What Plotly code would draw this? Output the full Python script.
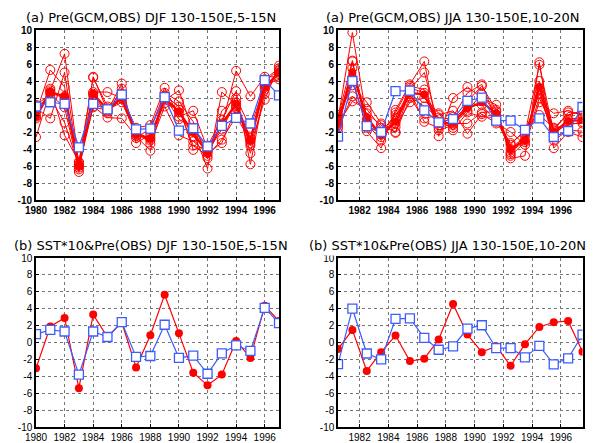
import plotly.graph_objects as go

# ---------------- data ----------------
djf_years = [1980, 1981, 1982, 1983, 1984, 1985, 1986, 1987, 1988,
             1989, 1990, 1991, 1992, 1993, 1994, 1995, 1996, 1997]
jja_years = [1980.5, 1981.5, 1982.5, 1983.5, 1984.5, 1985.5, 1986.5, 1987.5, 1988.5,
             1989.5, 1990.5, 1991.5, 1992.5, 1993.5, 1994.5, 1995.5, 1996.5, 1997.5]

# DJF GCM ensemble members (precip anomaly)
djf_m1 = [0.2, 5.3, 3.3, -6.7, 2.7, 2.7, 2.0, -1.5, -1.2, 3.2, -0.2, 0.5, -4.0, -1.2, 5.2, 2.2, 4.5, 4.5]
djf_m2 = [-2.6, 2.9, 7.2, -5.8, 4.5, 0.5, 3.7, -3.3, -2.3, 1.7, 2.9, -2.0, -6.3, 2.7, 1.2, -3.6, 1.8, 5.8]
djf_m3 = [0.8, -0.4, 5.0, -6.2, 1.0, -0.3, -0.4, -2.5, -4.2, 2.3, 1.0, -4.1, -3.6, -0.6, 2.8, -5.8, 3.0, 5.0]
djf_m4 = [-0.2, 3.1, -2.4, -5.5, 4.4, 1.0, 2.5, -1.8, -3.4, 1.0, -2.4, -3.1, -4.5, -3.3, 0.8, -2.7, 4.2, 5.5]
djf_m5 = [1.2, 2.4, 0.9, -6.4, 2.3, 0.2, 3.1, -2.7, -1.6, 2.6, 1.6, -0.8, -5.1, 0.5, 2.0, -1.5, 3.5, 4.2]
djf_m6 = [-0.4, 2.7, 2.2, -5.6, 0.9, 0.6, 1.5, -2.2, -3.0, 2.0, 0.3, -2.5, -4.3, -1.7, 1.5, -4.5, 2.5, 5.2]
djf_m7 = [1.0, 2.0, -0.9, -6.0, 2.5, 0.8, 2.2, -2.4, -2.6, 1.4, 0.6, -3.6, -4.8, -2.9, -0.2, -3.0, 3.3, 4.8]
djf_m8 = [0.5, 2.6, 2.0, -5.9, 1.8, 0.4, 1.9, -2.0, -2.8, 2.2, -0.5, -1.5, -4.2, -1.0, 1.0, -3.3, 4.0, 5.3]
djf_members = [djf_m1, djf_m2, djf_m3, djf_m4, djf_m5, djf_m6, djf_m7, djf_m8]
djf_mean = [-0.2, 2.7, 2.2, -6.0, 2.5, 0.6, 2.0, -2.3, -2.8, 2.0, 0.4, -2.0, -4.5, -1.0, 1.3, -3.0, 3.3, 5.0]

# JJA GCM ensemble members
jja_m1 = [-0.5, 9.7, -0.5, -2.6, 0.3, 3.4, 3.0, -0.8, -1.5, 1.6, 3.4, 0.6, -4.6, -2.2, 5.9, -2.2, -1.0, -1.0]
jja_m2 = [0.0, 3.5, 1.5, -1.0, -2.1, 2.0, -0.4, 0.0, 0.5, -2.2, 0.1, -1.0, -2.0, -3.5, 1.5, 0.2, 0.5, 0.0]
jja_m3 = [-2.0, 6.3, -1.9, -3.9, 0.6, 3.6, 6.3, -2.5, 2.0, 3.3, 2.0, 1.2, -5.1, -4.8, 6.2, -3.9, -2.0, -2.6]
jja_m4 = [-1.0, 1.6, 0.7, -1.5, -1.4, 1.5, 2.0, 0.2, -1.8, 0.3, -0.2, -0.3, -3.5, -1.8, 0.0, -1.5, 0.0, 0.5]
jja_m5 = [-0.3, 6.4, -1.0, -3.0, -0.3, 3.0, 5.0, -1.2, -0.2, 2.6, 3.6, -0.5, -4.0, -2.5, 3.0, -3.0, -1.8, -1.9]
jja_m6 = [-1.5, 2.2, 0.2, -1.2, -2.0, 2.8, -0.8, -1.5, -1.0, -1.0, 0.3, 0.4, -4.8, -3.2, 2.0, -1.8, 0.3, 0.1]
jja_m7 = [-1.2, 4.3, -1.5, -2.0, 0.0, 2.2, 1.0, -0.3, -0.5, 1.0, 1.2, -0.8, -3.3, -2.0, 2.5, -2.5, -0.5, -0.3]
jja_m8 = [-0.8, 5.5, -0.8, -2.2, -1.0, 3.2, 2.6, -1.8, -1.2, 0.5, 2.5, 0.0, -4.4, -3.0, 4.0, -1.6, -1.2, -0.8]
jja_members = [jja_m1, jja_m2, jja_m3, jja_m4, jja_m5, jja_m6, jja_m7, jja_m8]
jja_mean = [-0.9, 5.0, -0.3, -2.4, -0.8, 2.6, 2.4, -1.0, -0.9, 0.8, 1.5, 0.2, -4.0, -3.0, 3.3, -2.0, -0.7, -0.6]

# Observed precipitation anomaly
djf_obs = [1.0, 1.5, 1.3, -3.8, 1.3, 0.65, 2.4, -1.7, -1.6, 2.1, -1.83, -1.56, -3.7, -1.28, -0.33, -1.0, 4.1, 2.3]
jja_obs = [-2.55, 4.0, -1.3, -2.0, 2.8, 2.86, 0.55, -0.86, -0.47, 1.65, 2.04, -0.67, -0.67, -1.76, -0.39, -2.59, -1.88, 0.94]

# SST*10
djf_sst = [-3.06, 1.9, 2.9, -5.4, 3.3, 0.65, 2.4, -2.95, 0.85, 5.66, 1.08, -3.57, -5.07, -3.8, 0.18, -1.83, 4.36, 2.54]
jja_sst = [-0.78, 1.49, -3.37, -1.14, 0.82, -2.2, -1.92, 0.35, 4.55, 0.94, -1.14, -0.43, -2.75, -0.2, 1.84, 2.39, 2.55, -1.1]

titles = ["(a) Pre(GCM,OBS) DJF 130-150E,5-15N",
          "(a) Pre(GCM,OBS) JJA 130-150E,10-20N",
          "(b) SST*10&Pre(OBS) DJF 130-150E,5-15N",
          "(b) SST*10&Pre(OBS) JJA 130-150E,10-20N"]
djf_ticks = [1980, 1982, 1984, 1986, 1988, 1990, 1992, 1994, 1996]
jja_ticks = [1982, 1984, 1986, 1988, 1990, 1992, 1994, 1996]
y_ticks = [-10, -8, -6, -4, -2, 0, 2, 4, 6, 8, 10]

# ---------------- styles ----------------
W, H = 610, 443
RED = "#ff0000"
BLUE = "#3c5cff"

def px_x(a, b):
    return [a / W, b / W]

def px_y(top, bottom):
    return [1 - bottom / H, 1 - top / H]

fig = go.Figure()

panels = [
    ("x", "y", djf_years, djf_members, djf_mean, djf_obs, None),
    ("x2", "y2", jja_years, jja_members, jja_mean, jja_obs, None),
    ("x3", "y3", djf_years, None, None, djf_obs, djf_sst),
    ("x4", "y4", jja_years, None, None, jja_obs, jja_sst),
]

for xa, ya, xs, members, mean, obs, sst in panels:
    if members is not None:
        for m in members:
            fig.add_trace(go.Scatter(
                x=xs, y=m, xaxis=xa, yaxis=ya, mode="lines+markers",
                line=dict(color=RED, width=1),
                marker=dict(symbol="circle-open", size=9, color=RED, line=dict(width=1)),
                showlegend=False))
        fig.add_trace(go.Scatter(
            x=xs, y=mean, xaxis=xa, yaxis=ya, mode="lines+markers",
            line=dict(color=RED, width=2.2),
            marker=dict(symbol="circle", size=8, color=RED),
            showlegend=False))
    if sst is not None:
        fig.add_trace(go.Scatter(
            x=xs, y=sst, xaxis=xa, yaxis=ya, mode="lines+markers",
            line=dict(color=RED, width=1.2),
            marker=dict(symbol="circle", size=8, color=RED),
            showlegend=False))
    fig.add_trace(go.Scatter(
        x=xs, y=obs, xaxis=xa, yaxis=ya, mode="lines+markers",
        line=dict(color=BLUE, width=1.2),
        marker=dict(symbol="square", size=9, color="white",
                    line=dict(color=BLUE, width=1.3)),
        showlegend=False))

grid = dict(showgrid=True, gridcolor="#777777", griddash="dot", gridwidth=1,
            showline=True, linecolor="black", mirror=True, zeroline=False,
            ticks="inside", ticklen=3, tickcolor="black", automargin=False)

top_font = dict(family="Liberation Sans", size=10, color="black", weight="bold")
bot_font = dict(family="Liberation Sans", size=10, color="black")

lx = px_x(36, 279)
rx = px_x(338, 582.5)
ty = px_y(30, 200)
by = px_y(258, 427)

layout = dict(
    width=W, height=H, autosize=False,
    margin=dict(l=0, r=0, t=0, b=0, pad=0),
    paper_bgcolor="white", plot_bgcolor="white",
    showlegend=False,
)

axes_def = [
    ("xaxis", "yaxis", "x", "y", lx, ty, [1980, 1997], djf_ticks, top_font, 2),
    ("xaxis2", "yaxis2", "x2", "y2", rx, ty, [1980.5, 1997.5], jja_ticks, top_font, 2),
    ("xaxis3", "yaxis3", "x3", "y3", lx, by, [1980, 1997], djf_ticks, bot_font, 1.5),
    ("xaxis4", "yaxis4", "x4", "y4", rx, by, [1980.5, 1997.5], jja_ticks, bot_font, 1.5),
]
for xk, yk, xid, yid, dx, dy, xr, xt, f, lw in axes_def:
    layout[xk] = dict(domain=dx, range=xr, anchor=yid, tickmode="array",
                      tickvals=xt, ticktext=[str(t) for t in xt],
                      tickfont=f, linewidth=lw, **grid)
    layout[yk] = dict(domain=dy, range=[-10, 10], anchor=xid, tickmode="array",
                      tickvals=y_ticks, ticktext=[str(t) for t in y_ticks],
                      tickfont=f, linewidth=lw, **grid)

fig.update_layout(**layout)

title_font = dict(family="DejaVu Sans", size=13, color="black")
title_pos = [(24, 18, None), (324, 18, None), (12, 246, None), (306, 246, "white")]
for t, (x, y, bg) in zip(titles, title_pos):
    ann = dict(text=t, xref="paper", yref="paper", x=x / W, y=1 - y / H,
               xanchor="left", yanchor="middle", showarrow=False, font=title_font)
    if bg:
        ann["bgcolor"] = bg
        ann["borderpad"] = 2
    fig.add_annotation(**ann)

fig.write_html("out.html", config={"displayModeBar": False},
               post_script="document.body.style.margin='0';document.body.style.overflow='hidden';")
